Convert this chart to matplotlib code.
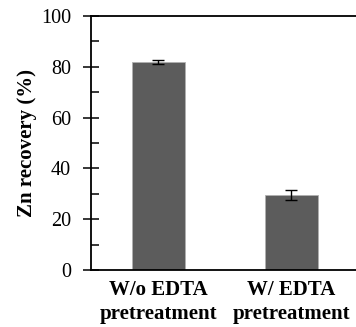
import numpy as np
import matplotlib
matplotlib.use("Agg")
import matplotlib.pyplot as plt
from matplotlib.ticker import MultipleLocator

categories = ["W/o EDTA\npretreatment", "W/ EDTA\npretreatment"]
recovery = [81.8, 29.5]
recovery_err = [0.8, 1.8]

plt.rcParams["font.family"] = ["Liberation Serif", "DejaVu Serif"]

fig = plt.figure(figsize=(3.56, 3.27), dpi=100)
ax = fig.add_axes([91 / 356, 1 - 270 / 327, 1 - 91 / 356, (270 - 16) / 327])

x = np.arange(len(categories))
ax.bar(x, recovery, width=0.4, color="#5c5c5c", edgecolor="#b0b0b0", linewidth=0.6,
       yerr=recovery_err, capsize=4,
       error_kw=dict(ecolor="black", elinewidth=1.0, capthick=1.0))

ax.set_xlim(-0.507, 1.485)
ax.set_ylim(0, 100)
ax.yaxis.set_major_locator(MultipleLocator(20))
ax.yaxis.set_minor_locator(MultipleLocator(10))
ax.tick_params(axis="y", which="major", direction="inout", length=12, width=1.1,
               labelsize=14.5, pad=8.5)
ax.tick_params(axis="y", which="minor", direction="in", length=6, width=1.1)
ax.set_xticks(x)
ax.set_xticklabels(categories, fontsize=15, fontweight="bold", linespacing=1.3)
ax.tick_params(axis="x", length=0, pad=7)

for side in ["left", "bottom", "top"]:
    ax.spines[side].set_linewidth(1.3)
ax.spines["right"].set_visible(False)

ax.set_ylabel("Zn recovery (%)", fontsize=15, fontweight="bold", labelpad=3)

fig.savefig("out.png", dpi=100)
